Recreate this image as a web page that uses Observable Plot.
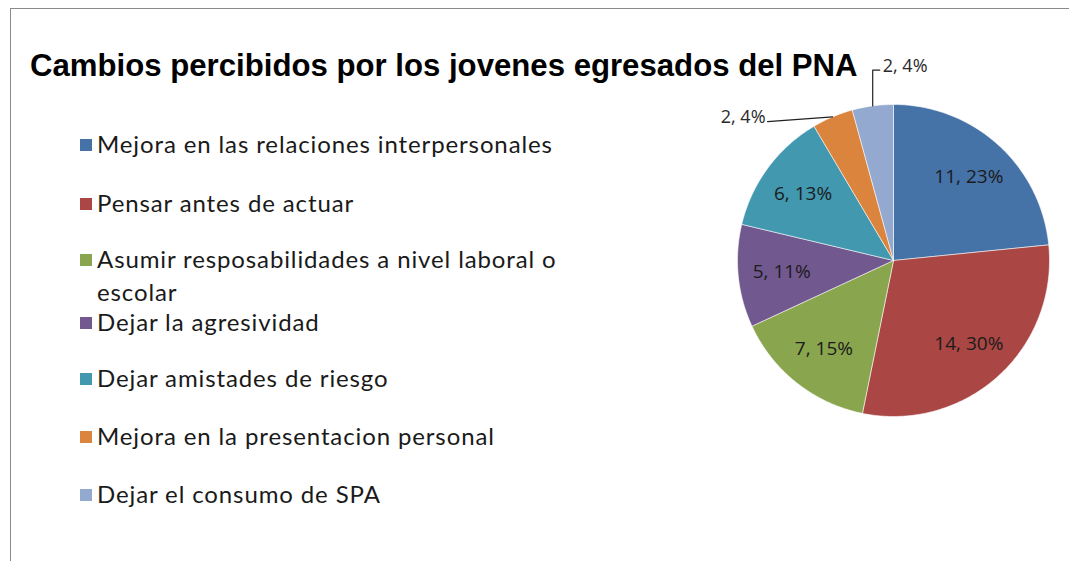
<!DOCTYPE html>
<html>
<head>
<meta charset="utf-8">
<script src="https://cdn.jsdelivr.net/npm/d3@7"></script>
<script src="https://cdn.jsdelivr.net/npm/@observablehq/plot@0.6"></script>
<style>
  html, body { margin: 0; padding: 0; background: #fff; }
  #wrap { position: relative; width: 1069px; height: 561px; overflow: hidden; background: #fff; }
  #wrap svg { position: absolute; left: 0; top: 0; }
  #frame { position: absolute; left: 10px; top: 8px; right: -2px; bottom: -2px; border-left: 1.5px solid #8a8a8a; border-top: 1.5px solid #8a8a8a; }
  #title { position: absolute; left: 30px; top: 48px; font-family: "Liberation Sans", Arial, sans-serif; font-weight: bold; font-size: 31px; color: #000; white-space: nowrap; }
  .item { position: absolute; left: 80px; font-family: Lato, "Open Sans", sans-serif; font-size: 24px; color: #1a1a1a; line-height: 33px; }
  .sw { position: absolute; left: 0; top: 12px; width: 12px; height: 12px; }
  .tx { position: relative; margin-left: 17px; width: 472px; }
  #probe { position: absolute; visibility: hidden; white-space: nowrap; font-family: Lato, "Open Sans", sans-serif; font-size: 24px; }
</style>
</head>
<body>
<div id="wrap">
  <div id="frame"></div>
  <div id="title">Cambios percibidos por los jovenes egresados del PNA</div>
  <span id="probe"></span>
</div>
<script>
// ---- data ----
const categories = [
  "Mejora en las relaciones interpersonales",
  "Pensar antes de actuar",
  "Asumir resposabilidades a nivel laboral o escolar",
  "Dejar la agresividad",
  "Dejar amistades de riesgo",
  "Mejora en la presentacion personal",
  "Dejar el consumo de SPA"
];
const counts = [11, 14, 7, 5, 6, 2, 2];
const percents = ["23%", "30%", "15%", "11%", "13%", "4%", "4%"];
const colors = ["#4572A7", "#AA4643", "#89A54E", "#71588F", "#4198AF", "#DB843D", "#93A9CF"];

// ---- geometry derived from the data ----
const pie = d3.pie().sort(null).value(d => d)(counts);
const polys = [];
pie.forEach((p, i) => {
  polys.push({cat: categories[i], x: 0, y: 0});
  const steps = Math.max(4, Math.ceil((p.endAngle - p.startAngle) / (Math.PI / 180)));
  for (let k = 0; k <= steps; k++) {
    const a = p.startAngle + (p.endAngle - p.startAngle) * k / steps;
    polys.push({cat: categories[i], x: Math.sin(a), y: Math.cos(a)});
  }
  polys.push({cat: categories[i], x: 0, y: 0});
});
const mid = p => (p.startAngle + p.endAngle) / 2;
const inside = [], leaders = [], outLeft = [], outUp = [];
pie.forEach((p, i) => {
  const a = mid(p);
  const text = counts[i] + ", " + percents[i];
  if (counts[i] / d3.sum(counts) > 0.06) {
    inside.push({x: 0.72 * Math.sin(a), y: 0.72 * Math.cos(a), text});
  } else {
    const ex = Math.sin(a), ey = Math.cos(a);
    if (outLeft.length === 0) {
      leaders.push({id: i, x: ex, y: ey}, {id: i, x: ex - 0.417, y: ey - 0.03});
      outLeft.push({x: ex - 0.417, y: ey - 0.03, text});
    } else {
      leaders.push({id: i, x: ex, y: ey}, {id: i, x: ex, y: 1.22}, {id: i, x: ex + 0.045, y: 1.22});
      outUp.push({x: ex + 0.045, y: 1.22, text});
    }
  }
});

const cx = 893, cy = 260, R = 156;
const labelFont = "'Open Sans', Lato, sans-serif";
const chart = Plot.plot({
  width: 1069, height: 561, margin: 0,
  x: {domain: [-1, 1], range: [cx - R, cx + R], axis: null},
  y: {domain: [-1, 1], range: [cy + R, cy - R], axis: null},
  color: {domain: categories, range: colors},
  style: {background: "transparent", overflow: "visible"},
  marks: [
    Plot.line(polys, {x: "x", y: "y", z: "cat", fill: "cat", stroke: "#ffffff", strokeWidth: 0.7, strokeOpacity: 0.8, curve: "linear-closed"}),
    Plot.line(leaders, {x: "x", y: "y", z: "id", stroke: "#222", strokeWidth: 1.2}),
    Plot.text(inside, {x: "x", y: "y", text: "text", fontSize: 19, fontFamily: labelFont, fill: "#1b1b1b"}),
    Plot.text(outLeft, {x: "x", y: "y", text: "text", textAnchor: "end", dx: -2, dy: -4, fontSize: 18, fontFamily: labelFont, fill: "#2a2a2a"}),
    Plot.text(outUp, {x: "x", y: "y", text: "text", textAnchor: "start", dx: 3, dy: -4, fontSize: 18, fontFamily: labelFont, fill: "#2a2a2a"})
  ]
});
const wrap = document.getElementById("wrap");
wrap.insertBefore(chart, wrap.firstChild);

// fit title width to reference box
const title = document.getElementById("title");
const tw = title.getBoundingClientRect().width;
title.style.fontSize = (31 * 828 / tw).toFixed(2) + "px";

// ---- HTML legend ----
const probe = document.getElementById("probe");
probe.textContent = categories[0];
const w0 = probe.getBoundingClientRect().width;
const ls = Math.max(0, (456 - w0) / categories[0].length);
const baselines = [153, 212, 268, 331, 387, 445, 503];
categories.forEach((c, i) => {
  const it = document.createElement("div");
  it.className = "item";
  it.style.top = (baselines[i] - 26) + "px";
  it.innerHTML = `<div class="sw" style="background:${colors[i]}"></div><div class="tx"></div>`;
  const tx = it.querySelector(".tx");
  tx.textContent = c;
  tx.style.letterSpacing = ls.toFixed(2) + "px";
  wrap.appendChild(it);
});
</script>
</body>
</html>
